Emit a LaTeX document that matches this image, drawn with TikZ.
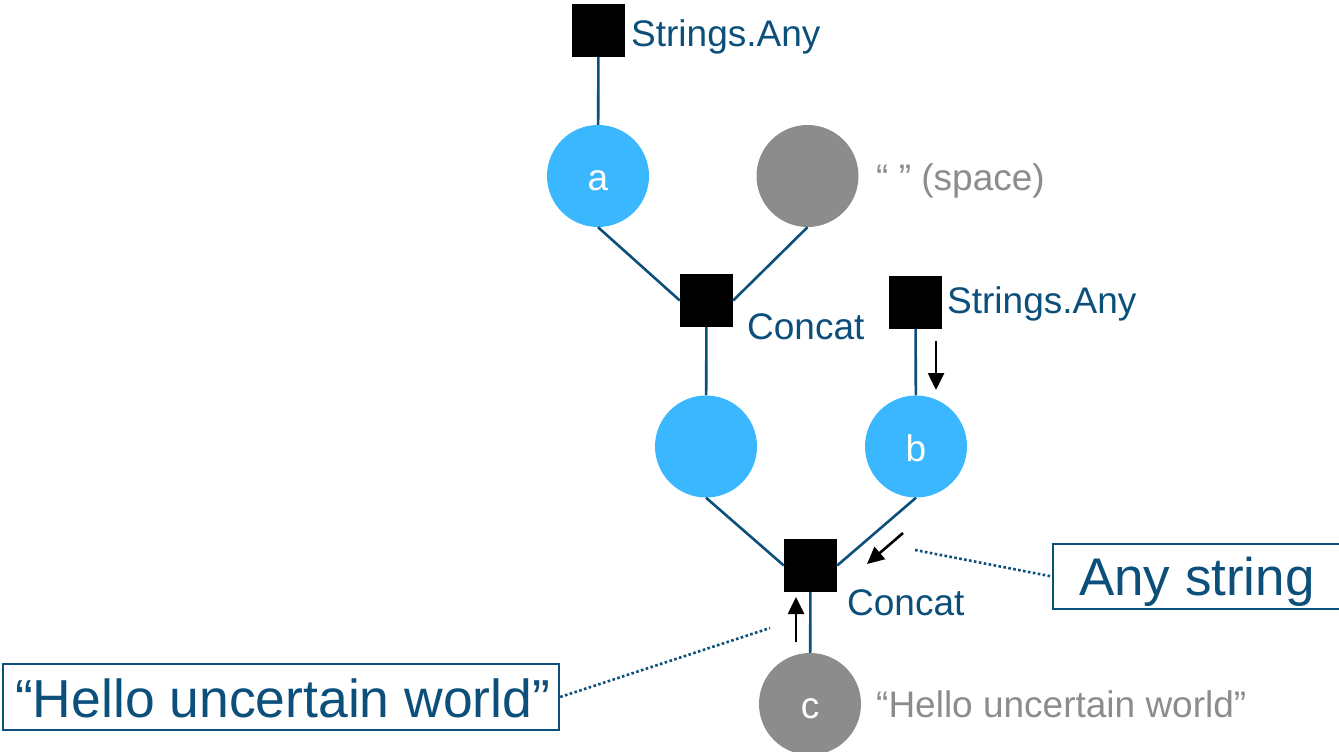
\documentclass[tikz,border=0pt]{standalone}
\usepackage{fontspec}
\setmainfont{Liberation Sans}
\usetikzlibrary{arrows.meta}
\definecolor{navy}{HTML}{0B4F7A}
\definecolor{lblue}{HTML}{3BB7FF}
\definecolor{gry}{HTML}{8C8C8C}
\tikzset{
  fsq/.style={fill=black, draw=none, minimum size=53pt, inner sep=0pt},
  vcirc/.style={circle, fill=lblue, draw=none, minimum size=102pt, inner sep=0pt, text=white, font=\fontsize{37}{44}\selectfont, text height=29pt, text depth=0pt},
  gcirc/.style={circle, fill=gry, draw=none, minimum size=102pt, inner sep=0pt, text=white, font=\fontsize{37}{44}\selectfont, text height=29pt, text depth=0pt},
  conn/.style={draw=navy, line width=2.6pt},
  lbl/.style={anchor=base west, inner sep=0pt, text=navy, font=\fontsize{37}{44}\selectfont},
  glbl/.style={anchor=base west, inner sep=0pt, text=gry, font=\fontsize{37}{44}\selectfont},
  cbox/.style={draw=navy, line width=2.2pt, text=navy, inner ysep=0pt},
  arr/.style={draw=black, line width=2.6pt, -{Triangle[width=16pt,length=17pt]}},
  dots/.style={draw=navy, line width=2.6pt, dash pattern=on 2.6pt off 2.4pt}
}
\begin{document}
\begin{tikzpicture}[x=1pt,y=-1pt]
\useasboundingbox (0,0) rectangle (1339,752);
\clip (0,0) rectangle (1339,752);

% factors and variables
\node[fsq] (f1) at (598.5,30.5) {};
\node[vcirc] (a) at (598,176) {a};
\node[gcirc] (sp) at (807.5,176) {};
\node[fsq] (f2) at (706.5,300.5) {};
\node[fsq] (f3) at (915.5,302.5) {};
\node[vcirc] (m) at (706,446.5) {};
\node[vcirc] (b) at (916,446.5) {b};
\node[fsq] (f4) at (810.5,565.5) {};
\node[gcirc] (c) at (810,704) {c};

% labels
\node[lbl] (l1) at (631,47) {Strings.Any};
\node[glbl] (l2) at (876,190) {“ ” (space)};
\node[lbl] (l3) at (747,339) {Concat};
\node[lbl] (l4) at (947,313) {Strings.Any};
\node[lbl] (l5) at (847,615) {Concat};
\node[glbl] (l6) at (876,717) {“Hello uncertain world”};

% connectors
\draw[conn] (f1) -- (a);
\draw[conn] (a.south) -- (f2.west);
\draw[conn] (sp.south) -- (f2.east);
\draw[conn] (f2) -- (m);
\draw[conn] (f3) -- (b);
\draw[conn] (m.south) -- (f4.west);
\draw[conn] (b.south) -- (f4.east);
\draw[conn] (f4) -- (c);

% message arrows
\coordinate (d1s) at (936,341);
\coordinate (d1e) at (936,390);
\coordinate (d2s) at (903,533);
\coordinate (d2e) at (867,564);
\coordinate (d3s) at (796,642);
\coordinate (d3e) at (796,597);
\draw[arr] (d1s) -- (d1e);
\draw[arr] (d2s) -- (d2e);
\draw[arr] (d3s) -- (d3e);

% callouts
\node[cbox, font=\fontsize{53}{60}\selectfont, anchor=west, minimum width=300pt, minimum height=65pt, inner xsep=26pt, text height=37pt, text depth=0pt] (anybox) at (1052,576.5) {\makebox[248pt][l]{Any string}};
\node[cbox, font=\fontsize{53.5}{60}\selectfont, anchor=west, minimum width=556pt, minimum height=66pt, inner xsep=12pt, text height=40pt, text depth=0pt] (hellobox) at (2,697) {\makebox[532pt][l]{“Hello uncertain world”}};
\coordinate (p1) at (915,550);
\coordinate (p2) at (770,628);
\draw[dots] (p1) -- (anybox.west);
\draw[dots] (hellobox.east) -- (p2);
\end{tikzpicture}
\end{document}
